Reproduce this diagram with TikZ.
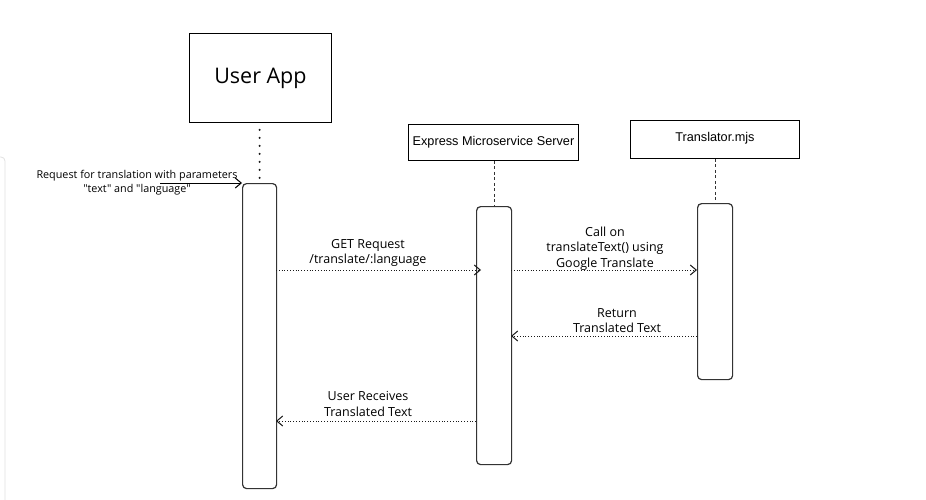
\documentclass[tikz,border=0pt]{standalone}
\usepackage{fontspec}
\setmainfont{Open Sans}[Ligatures=TeXOff]
\newfontfamily\arialf{Liberation Sans}
\usetikzlibrary{arrows.meta}
\begin{document}
\begin{tikzpicture}[x=1pt,y=-1pt,
  box/.style={draw=black, line width=0.9pt, inner sep=0pt, anchor=north west},
  act/.style={draw=black!80, line width=1.2pt, rounded corners=4pt, inner sep=0pt, anchor=north west},
  lbl/.style={align=center, font=\fontsize{12.5}{15.5}\selectfont, text=black, inner sep=0pt},
  tip/.style={-{Straight Barb[length=6pt,width=10pt,line width=1pt]}},
  msg/.style={dotted, line width=0.8pt, black!90, tip},
  life/.style={dashed, dash pattern=on 3pt off 2.5pt, line width=1pt, black!80}]
\useasboundingbox (0,0) rectangle (926,500);
% faint frame edge
\draw[black!12, line width=0.8pt, rounded corners=4pt] (0,157) -- (5,157) -- (5,505);
% participants
\node[box, minimum width=142pt, minimum height=89pt] (ua) at (189,33) {};
\node[font=\fontsize{21.5}{24}\selectfont] at (ua.center) {User App};
\node[box, minimum width=170pt, minimum height=36pt] (ex) at (408,124) {};
\node[font=\arialf\fontsize{12.7}{14}\selectfont] at (ex.center) {Express Microservice Server};
\node[box, minimum width=169pt, minimum height=38pt] (tr) at (630,120) {};
\node[font=\arialf\fontsize{12.7}{14}\selectfont, anchor=center] at ([yshift=-18pt]tr.north) {Translator.mjs};
% activations
\node[act, minimum width=34pt, minimum height=305pt] (uaa) at (242,183) {};
\node[act, minimum width=35pt, minimum height=258pt] (exa) at (476,206) {};
\node[act, minimum width=35pt, minimum height=176pt] (tra) at (697,203) {};
% lifelines
\draw[line width=2.4pt, line cap=round, dash pattern=on 0pt off 8pt, black!90] ([yshift=-7pt]ua.south -| uaa.north) -- (uaa.north);
\draw[life] (ex.south -| exa.north) -- (exa.north);
\draw[life] (tr.south -| tra.north) -- (tra.north);
% incoming request
\coordinate (req) at (160,183);
\draw[line width=0.9pt, black, tip] (req) -- (uaa.north west);
\node[lbl, font=\fontsize{10.8}{14}\selectfont] at (137,183) {Request for translation with parameters\\"text" and "language"};
% messages
\coordinate (m1s) at (276,270); \coordinate (m1e) at (481,270);
\draw[msg] (m1s) -- (m1e);
\node[lbl] at (368,253) {GET Request\\/translate/:language};
\coordinate (m2s) at (511,270); \coordinate (m2e) at (697,270);
\draw[msg] (m2s) -- (m2e);
\node[lbl] at (605,248.5) {Call on\\translateText() using\\Google Translate};
\coordinate (m3s) at (697,336); \coordinate (m3e) at (511,336);
\draw[msg] (m3s) -- (m3e);
\node[lbl] at (617,320.5) {Return\\Translated Text};
\coordinate (m4s) at (476,421); \coordinate (m4e) at (276,421);
\draw[msg] (m4s) -- (m4e);
\node[lbl] at (368,404) {User Receives\\Translated Text};
\end{tikzpicture}
\end{document}
